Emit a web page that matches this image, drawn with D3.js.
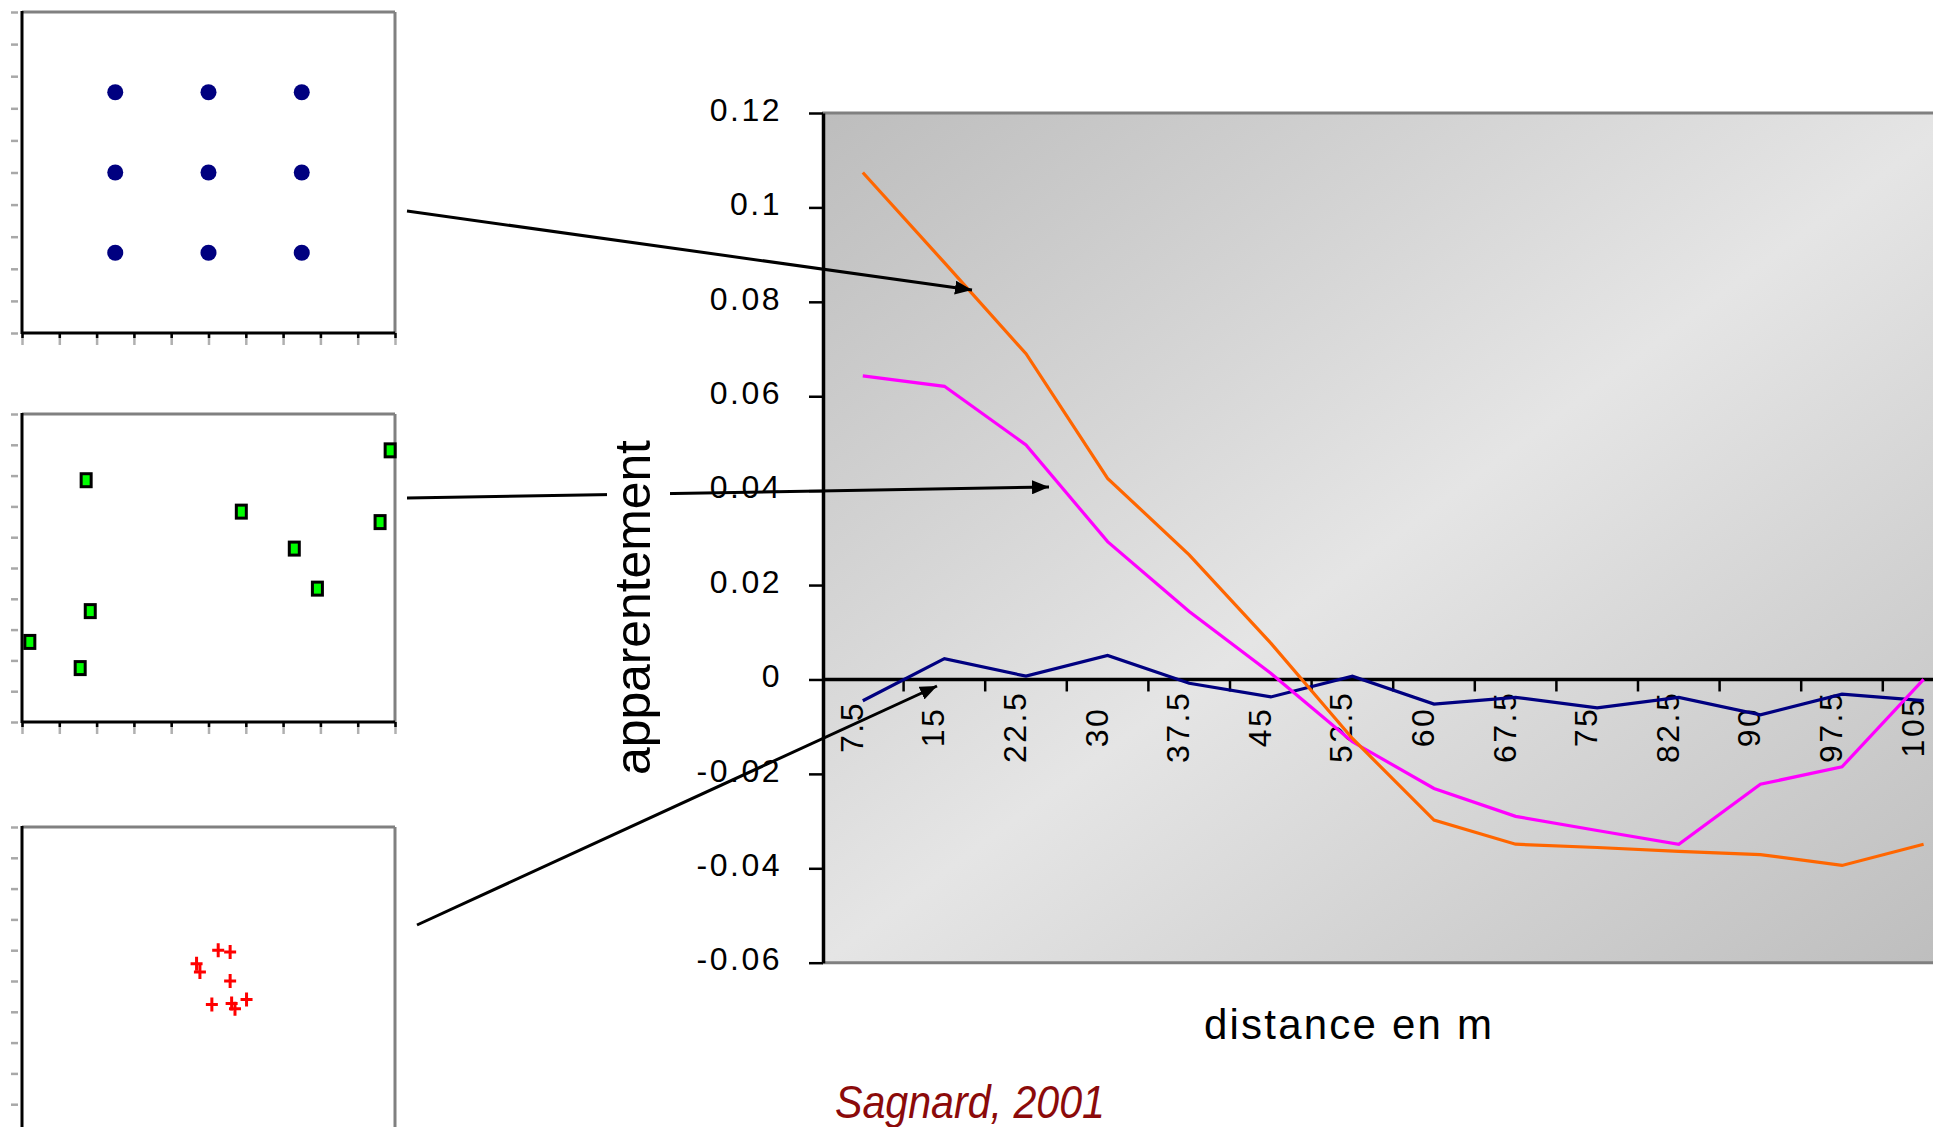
<!DOCTYPE html>
<html>
<head>
<meta charset="utf-8">
<title>Apparentement</title>
<script src="https://d3js.org/d3.v7.min.js"></script>
<style>
  body { margin: 0; background: #fff; }
  svg { display: block; font-family: "Liberation Sans", Arial, sans-serif; }
</style>
</head>
<body>
<svg id="chart" width="1933" height="1127"></svg>
<script>
// distance classes (m)
var distances = ["7.5", "15", "22.5", "30", "37.5", "45", "52.5", "60", "67.5", "75", "82.5", "90", "97.5", "105"];

// kinship curves, one per spatial pattern
var grille   = [0.1074, 0.0883, 0.0690, 0.0426, 0.0264, 0.0077, -0.0125, -0.0298, -0.0349, -0.0356, -0.0364, -0.0371, -0.0394, -0.0349];
var aleatoire = [0.0643, 0.0621, 0.0497, 0.0292, 0.0144, 0.0013, -0.0132, -0.0231, -0.0290, -0.0320, -0.0349, -0.0222, -0.0185, 0.0];
var agrege   = [-0.0045, 0.0044, 0.0007, 0.0051, -0.0008, -0.0037, 0.0007, -0.0052, -0.0038, -0.0060, -0.0038, -0.0075, -0.0031, -0.0045];

var yTicks = [-0.06, -0.04, -0.02, 0, 0.02, 0.04, 0.06, 0.08, 0.1, 0.12];
var yTickLabels = ["-0.06", "-0.04", "-0.02", "0", "0.02", "0.04", "0.06", "0.08", "0.1", "0.12"];

// the three small maps (0-10 units)
var gridX = [2.5, 5, 7.5, 2.5, 5, 7.5, 2.5, 5, 7.5];
var gridY = [7.5, 7.5, 7.5, 5, 5, 5, 2.5, 2.5, 2.5];
var randX = [1.72, 9.87, 5.88, 9.6, 7.3, 7.92, 1.83, 0.21, 1.56];
var randY = [7.85, 8.82, 6.83, 6.49, 5.63, 4.33, 3.6, 2.6, 1.75];
var clustX = [5.26, 5.58, 4.68, 4.77, 5.58, 5.09, 5.62, 6.02, 5.71];
var clustY = [6.0, 5.94, 5.56, 5.29, 5.0, 4.24, 4.27, 4.4, 4.1];

var svg = d3.select("#chart");

// ---------- main chart ----------
var x = d3.scaleBand().domain(distances).range([822, 822 + 14 * 81.6]).padding(0);
var y = d3.scaleLinear().domain([-0.06, 0.12]).range([962.7, 113]);
var cx = function(d) { return x(d) + x.bandwidth() / 2; };

var defs = svg.append("defs");
var grad = defs.append("linearGradient").attr("id", "bg")
    .attr("x1", 0).attr("y1", 0).attr("x2", 1).attr("y2", 1);
grad.append("stop").attr("offset", 0).attr("stop-color", "#bdbdbd");
grad.append("stop").attr("offset", 0.5).attr("stop-color", "#e5e5e5");
grad.append("stop").attr("offset", 1).attr("stop-color", "#bdbdbd");

defs.append("marker").attr("id", "arrow")
    .attr("markerUnits", "userSpaceOnUse")
    .attr("markerWidth", 20).attr("markerHeight", 14)
    .attr("refX", 17).attr("refY", 7)
    .attr("orient", "auto")
  .append("path").attr("d", "M0,0L17,7L0,14Z").attr("fill", "#000");

var x0 = x.range()[0], x1 = x.range()[1];
svg.append("rect")
    .attr("x", x0).attr("y", y(0.12))
    .attr("width", x1 - x0).attr("height", y(-0.06) - y(0.12))
    .attr("fill", "url(#bg)");

// top / bottom frame in grey
svg.append("line").attr("x1", x0).attr("x2", x1).attr("y1", y(0.12)).attr("y2", y(0.12))
    .attr("stroke", "#808080").attr("stroke-width", 3);
svg.append("line").attr("x1", x0).attr("x2", x1).attr("y1", y(-0.06)).attr("y2", y(-0.06))
    .attr("stroke", "#808080").attr("stroke-width", 3);

// zero line with ticks between categories
svg.append("line").attr("x1", x0).attr("x2", x1).attr("y1", y(0)).attr("y2", y(0))
    .attr("stroke", "#000").attr("stroke-width", 3.5);
svg.append("g").selectAll("line")
    .data(distances.slice(1))
    .join("line")
    .attr("x1", function(d) { return x(d); }).attr("x2", function(d) { return x(d); })
    .attr("y1", y(0)).attr("y2", y(0) + 12)
    .attr("stroke", "#000").attr("stroke-width", 2.5);

// y axis
var yAxis = svg.append("g")
    .attr("transform", "translate(823,0)")
    .call(d3.axisLeft(y).tickValues(yTicks).tickSize(14).tickSizeOuter(0)
        .tickFormat(function(d, i) { return yTickLabels[i]; }));
yAxis.select(".domain").attr("stroke", "#000").attr("stroke-width", 3.5);
yAxis.selectAll(".tick line").attr("stroke", "#000").attr("stroke-width", 2.5);
yAxis.selectAll(".tick text")
    .attr("x", -41).attr("dy", "0.35em").attr("y", -4)
    .attr("fill", "#000")
    .style("font-family", "'Liberation Sans', Arial, sans-serif")
    .style("font-size", "32px").style("letter-spacing", "2.5px");

// x axis labels (rotated)
var xAxis = svg.append("g")
    .attr("transform", "translate(0," + y(0) + ")")
    .call(d3.axisBottom(x).tickSize(0));
xAxis.select(".domain").remove();
xAxis.selectAll(".tick text")
    .attr("x", 0).attr("y", 0).attr("dy", 0)
    .attr("transform", "translate(0,47.5) rotate(-90)")
    .attr("text-anchor", "middle")
    .attr("fill", "#000")
    .style("font-family", "'Liberation Sans', Arial, sans-serif")
    .style("font-size", "32px").style("letter-spacing", "2.5px");

// series
var line = d3.line()
    .x(function(d, i) { return cx(distances[i]); })
    .y(function(d) { return y(d); });
var series = [
  { values: agrege, color: "#000080" },
  { values: aleatoire, color: "#ff00ff" },
  { values: grille, color: "#ff6600" }
];
svg.append("g").selectAll("path")
    .data(series)
    .join("path")
    .attr("d", function(s) { return line(s.values); })
    .attr("fill", "none")
    .attr("stroke", function(s) { return s.color; })
    .attr("stroke-width", 3.2);

// axis titles
svg.append("text")
    .attr("x", 1204).attr("y", 1039)
    .attr("textLength", 288)
    .style("font-size", "42px")
    .text("distance en m");

svg.append("text")
    .attr("x", 835).attr("y", 1118)
    .attr("textLength", 270).attr("lengthAdjust", "spacingAndGlyphs")
    .attr("fill", "#8b0a0a")
    .style("font-size", "47px").style("font-style", "italic")
    .text("Sagnard, 2001");

// ---------- small maps ----------
var px = d3.scaleLinear().domain([0, 10]).range([22, 395]);
var panels = [
  { top: 12, bottom: 333, xs: gridX, ys: gridY, kind: "dot" },
  { top: 414, bottom: 722, xs: randX, ys: randY, kind: "square" },
  { top: 827, bottom: 1135, xs: clustX, ys: clustY, kind: "plus" }
];

panels.forEach(function(p) {
  var py = d3.scaleLinear().domain([0, 10]).range([p.bottom, p.top]);
  var g = svg.append("g");

  // grey ticks left of the frame
  var lt = g.append("g").attr("transform", "translate(18,0)")
      .call(d3.axisLeft(py).tickValues(d3.range(0, 11)).tickSize(7).tickFormat(""));
  lt.select(".domain").remove();
  lt.selectAll(".tick line").attr("stroke", "#a8a8a8").attr("stroke-width", 2.5);

  // bottom ticks: grey continuation under black ticks
  var bt = g.append("g").attr("transform", "translate(0," + p.bottom + ")")
      .call(d3.axisBottom(px).tickValues(d3.range(0, 11)).tickSize(12).tickFormat(""));
  bt.select(".domain").remove();
  bt.selectAll(".tick line").attr("stroke", "#b0b0b0").attr("stroke-width", 2.5);
  var bk = g.append("g").attr("transform", "translate(0," + p.bottom + ")")
      .call(d3.axisBottom(px).tickValues(d3.range(0, 11)).tickSize(5).tickFormat(""));
  bk.select(".domain").remove();
  bk.selectAll(".tick line").attr("stroke", "#000").attr("stroke-width", 2.5);

  // frame
  g.append("line").attr("x1", px(0)).attr("x2", px(10)).attr("y1", p.top).attr("y2", p.top)
      .attr("stroke", "#808080").attr("stroke-width", 3);
  g.append("line").attr("x1", px(10)).attr("x2", px(10)).attr("y1", p.top).attr("y2", p.bottom)
      .attr("stroke", "#808080").attr("stroke-width", 3);
  g.append("line").attr("x1", px(0)).attr("x2", px(10)).attr("y1", p.bottom).attr("y2", p.bottom)
      .attr("stroke", "#000").attr("stroke-width", 3);
  g.append("line").attr("x1", px(0)).attr("x2", px(0)).attr("y1", p.top - 1).attr("y2", p.bottom + 1)
      .attr("stroke", "#000").attr("stroke-width", 3);

  var pts = p.xs.map(function(v, i) { return [v, p.ys[i]]; });
  if (p.kind == "dot") {
    g.selectAll("circle").data(pts).join("circle")
        .attr("cx", function(d) { return px(d[0]); })
        .attr("cy", function(d) { return py(d[1]); })
        .attr("r", 8).attr("fill", "#000080");
  } else if (p.kind == "square") {
    g.selectAll("rect").data(pts).join("rect")
        .attr("x", function(d) { return px(d[0]) - 5; })
        .attr("y", function(d) { return py(d[1]) - 6.5; })
        .attr("width", 10).attr("height", 13)
        .attr("fill", "#00ff00").attr("stroke", "#000").attr("stroke-width", 3);
  } else {
    g.selectAll("path").data(pts).join("path")
        .attr("d", function(d) {
          var a = px(d[0]), b = py(d[1]);
          return "M" + (a - 6) + "," + b + "H" + (a + 6) + "M" + a + "," + (b - 7) + "V" + (b + 7);
        })
        .attr("stroke", "#ff0000").attr("stroke-width", 3);
  }
});

// ---------- arrows from maps to curves ----------
var arrows = [
  [[407, 211], [972, 290]],
  [[407, 498], [1049, 487]],
  [[417, 925], [937, 686]]
];
svg.append("g").selectAll("line")
    .data(arrows)
    .join("line")
    .attr("x1", function(d) { return d[0][0]; }).attr("y1", function(d) { return d[0][1]; })
    .attr("x2", function(d) { return d[1][0]; }).attr("y2", function(d) { return d[1][1]; })
    .attr("stroke", "#000").attr("stroke-width", 3)
    .attr("marker-end", "url(#arrow)");

// y title on a white box (hides the arrow behind it)
svg.append("rect").attr("x", 607).attr("y", 432).attr("width", 63).attr("height", 350).attr("fill", "#fff");
svg.append("text")
    .attr("transform", "translate(650,440) rotate(-90)")
    .attr("x", -335)
    .attr("textLength", 335)
    .style("font-size", "50px")
    .text("apparentement");
</script>
</body>
</html>
